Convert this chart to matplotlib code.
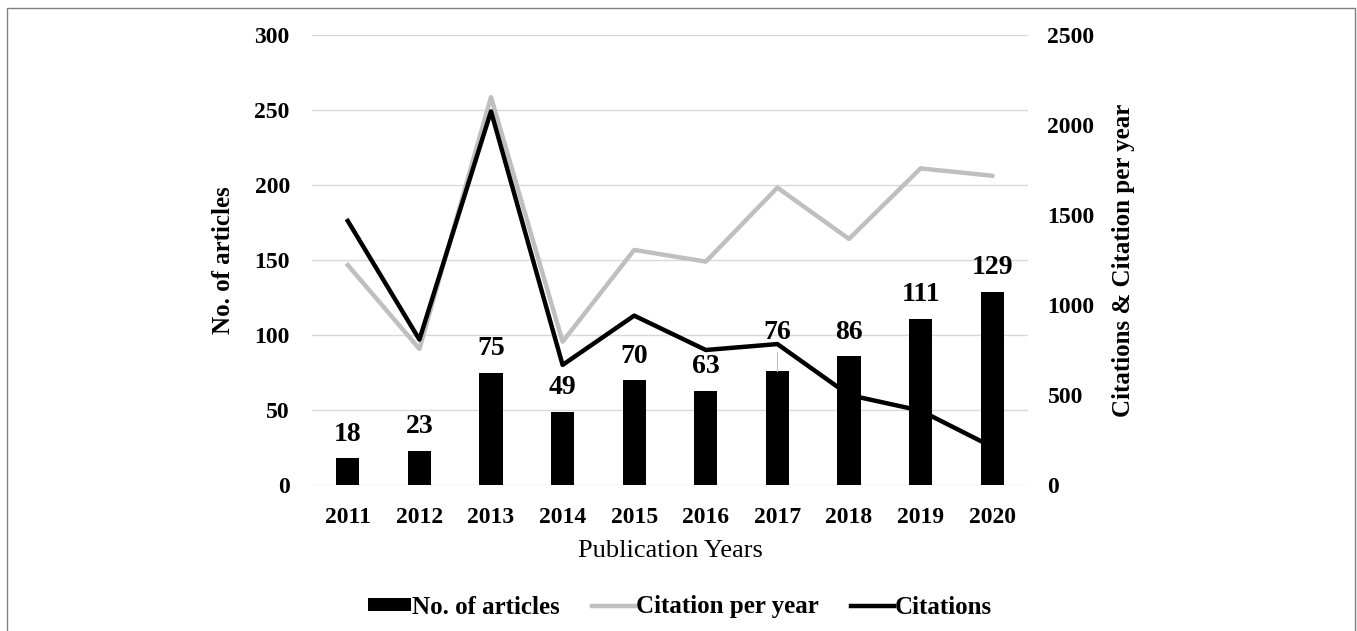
import numpy as np
import matplotlib.pyplot as plt
from matplotlib.patches import Rectangle

plt.rcParams['font.family'] = ['Liberation Serif', 'DejaVu Serif']

# publication counts and citation figures per year
years = ['2011', '2012', '2013', '2014', '2015', '2016', '2017', '2018', '2019', '2020']
articles = [18, 23, 75, 49, 70, 63, 76, 86, 111, 129]
citations = [1467, 808, 2076, 667, 941, 750, 783, 500, 413, 212]
citation_per_year = [1222, 756, 2155, 796, 1306, 1241, 1652, 1367, 1759, 1718]

left_ticks = [0, 50, 100, 150, 200, 250, 300]
right_ticks = [0, 500, 1000, 1500, 2000, 2500]

fig = plt.figure(figsize=(13.57, 6.31), dpi=100)
ax = fig.add_axes([312 / 1357, 1 - 485 / 631, 716 / 1357, 450 / 631])
ax2 = ax.twinx()

x = np.arange(len(years))
ax.bar(x, articles, width=0.326, color='black', label='No. of articles', zorder=2)
ax.set_xlim(-0.5, len(years) - 0.5)
ax.set_ylim(0, 300)
ax.set_yticks(left_ticks)
ax.set_axisbelow(True)
ax.grid(axis='y', color='#d9d9d9', linewidth=1.0)

ax2.plot(x, citation_per_year, color='#bfbfbf', linewidth=3.2, label='Citation per year')
ax2.plot(x, citations, color='black', linewidth=3.2, label='Citations')
ax2.set_ylim(0, 2500)
ax2.set_yticks(right_ticks)

for a in (ax, ax2):
    for s in a.spines.values():
        s.set_visible(False)
    a.tick_params(length=0, labelsize=17)
    for lab in a.get_xticklabels() + a.get_yticklabels():
        lab.set_fontweight('bold')

ax.set_xticks(x)
ax.set_xticklabels(years, fontsize=17, fontweight='bold')
ax.tick_params(axis='x', pad=16)
ax.tick_params(axis='y', pad=16)
ax2.tick_params(axis='y', pad=14)

# value labels above bars; 2017 is lifted and tied back with a thin leader
for i, v in enumerate(articles):
    off = 27.5 if years[i] == '2017' else 17.0
    ax2.annotate(str(v), xy=(i, v), xycoords=ax.transData,
                 xytext=(0, off), textcoords='offset points',
                 ha='center', va='center', fontsize=20, fontweight='bold', zorder=5)
    if years[i] == '2017':
        ax.plot([i, i], [v, v + 13], color='#bfbfbf', linewidth=0.8, zorder=3)

ax.set_ylabel('No. of articles', fontsize=18, fontweight='bold')
ax.yaxis.set_label_coords(-0.1075, 0.5)
ax2.set_ylabel('Citations & Citation per year', fontsize=18, fontweight='bold')
ax2.yaxis.set_label_coords(1.117, 0.5)
ax.set_xlabel('Publication Years', fontsize=19, va='center')
ax.xaxis.set_label_coords(0.5, -0.147)

h1, l1 = ax.get_legend_handles_labels()
h2, l2 = ax2.get_legend_handles_labels()
fig.legend(h1 + h2, l1 + l2, loc='center', bbox_to_anchor=(680 / 1357, 24 / 631),
           ncol=3, frameon=False, handlelength=1.7, handleheight=0.4,
           handletextpad=0.05, columnspacing=1.3,
           prop={'size': 18, 'weight': 'bold'})

# thin outer frame
fig.patches.append(Rectangle((7 / 1357, -0.1), 1348 / 1357, 1.1 - 8 / 631,
                             transform=fig.transFigure, fill=False,
                             edgecolor='#808080', linewidth=1.0))

fig.savefig('out.png', dpi=100)
